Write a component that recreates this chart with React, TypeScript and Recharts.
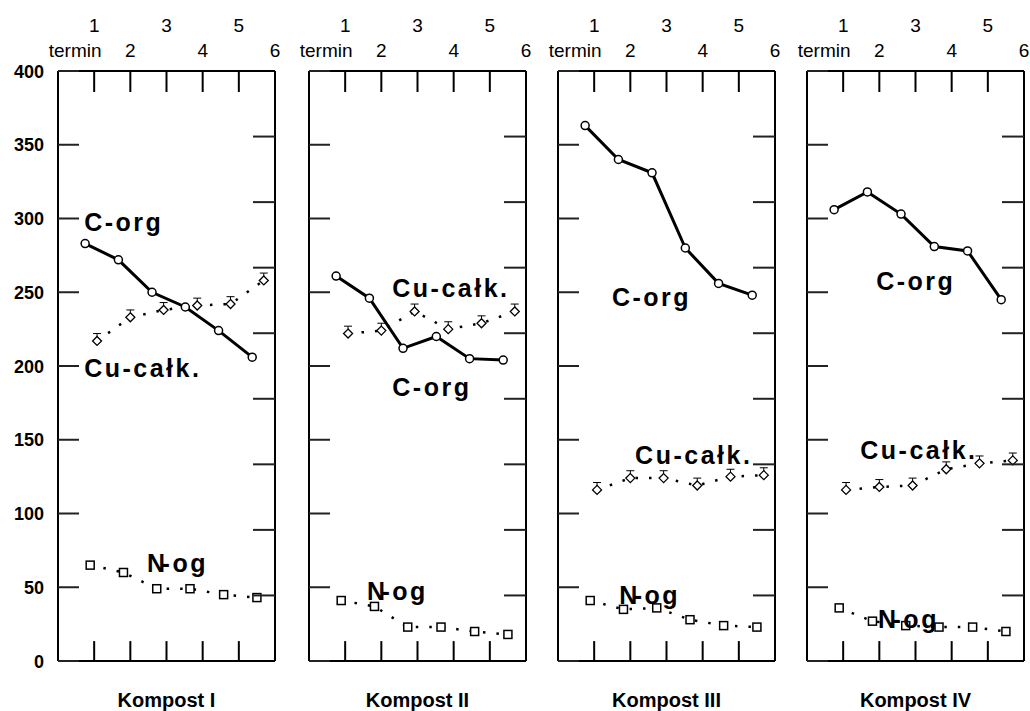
import React from 'react';
import { LineChart, Line, XAxis, YAxis, ErrorBar, ReferenceDot, ReferenceLine } from 'recharts';

const termin = [1, 2, 3, 4, 5, 6];
const kompost = ['Kompost I', 'Kompost II', 'Kompost III', 'Kompost IV'];
const yTicks = [0, 50, 100, 150, 200, 250, 300, 350, 400];
const rightTicks = [1, 2, 3, 4, 5, 6, 7, 8];

// x positions of the markers on the termin axis (the three series are drawn side by side)
const cOrgX = [0.75, 1.67, 2.6, 3.52, 4.44, 5.37];
const nOgX = [0.89, 1.81, 2.73, 3.65, 4.58, 5.5];
const cuX = [1.08, 2.0, 2.92, 3.85, 4.77, 5.69];

const cOrg = [
  [283, 272, 250, 240, 224, 206],
  [261, 246, 212, 220, 205, 204],
  [363, 340, 331, 280, 256, 248],
  [306, 318, 303, 281, 278, 245],
];
const cuCalk = [
  [217, 233, 238, 241, 242, 258],
  [222, 224, 237, 225, 229, 237],
  [116, 124, 124, 119, 125, 126],
  [116, 118, 119, 130, 134, 136],
];
const cuErr = [5, 5, 5, 5, 5, 5];
const nOg = [
  [65, 60, 49, 49, 45, 43],
  [41, 37, 23, 23, 20, 18],
  [41, 35, 36, 28, 24, 23],
  [36, 27, 24, 23, 23, 20],
];

// where the series names sit: [termin, value]
const cOrgLabel = [[0.75, 291], [2.33, 179], [1.52, 240], [1.94, 251]];
const cuLabel = [[0.75, 192], [2.33, 246], [2.16, 133], [1.5, 136]];
const nOgLabel = [[2.49, 60], [1.63, 41], [1.72, 38], [1.99, 22]];

const panelLeft = [58, 309, 558, 807];
const plotW = 217;
const plotH = 590;
const bottomTickLen = 13.5; // in value units, about 20px
const font = '"Liberation Sans", Arial, sans-serif';

// invisible rows so the top and right axes have something attached
const axisRows = termin.map((t, k) => ({ t, v: rightTicks[k] }));

const TopTick = ({ x, y, payload }: any) => {
  const v = payload.value;
  return (
    <g>
      <line x1={x} x2={x} y1={y} y2={y + 21} stroke="#000" strokeWidth={2} />
      <text x={x} y={v % 2 ? y - 39 : y - 14} textAnchor="middle" fontSize={19} fontFamily={font} fill="#000">
        {v}
      </text>
      {v === 1 && (
        <text x={x - 19} y={y - 14} textAnchor="middle" fontSize={19} fontFamily={font} fill="#000">
          termin
        </text>
      )}
    </g>
  );
};

const RightTick = ({ x, y }: any) => (
  <g>
    <line x1={x - 22} x2={x} y1={y} y2={y} stroke="#222" strokeWidth={2} />
  </g>
);

const makeLeftTick = (showText: boolean) => ({ x, y, payload }: any) => (
  <g>
    <line x1={x} x2={x + 21} y1={y} y2={y} stroke="#222" strokeWidth={2} />
    {showText && (
      <text x={x - 14} y={y + 6.5} textAnchor="end" fontSize={18} fontWeight="bold" fontFamily={font} fill="#000">
        {payload.value}
      </text>
    )}
  </g>
);

const Diamond = ({ cx, cy }: any) =>
  cx == null ? null : (
    <path d={`M${cx},${cy - 4.5}L${cx + 4.5},${cy}L${cx},${cy + 4.5}L${cx - 4.5},${cy}Z`} fill="#fff" stroke="#000" strokeWidth={1.3} />
  );

const Square = ({ cx, cy }: any) =>
  cx == null ? null : <rect x={cx - 4} y={cy - 4} width={8} height={8} fill="#fff" stroke="#000" strokeWidth={1.5} />;

const nameLabel = (text: string, split?: boolean) => ({ viewBox }: any) => (
  <text x={viewBox.x} y={viewBox.y} fontSize={25} fontWeight="bold" fontFamily={font} letterSpacing={2.5} fill="#000">
    {split ? (
      <>
        <tspan>N</tspan>
        <tspan dx={-6}>-og</tspan>
      </>
    ) : (
      text
    )}
  </text>
);

function Panel({ i }: { i: number }) {
  const cData = termin.map((t, k) => ({ x: cOrgX[k], y: cOrg[i][k] }));
  const uData = termin.map((t, k) => ({ x: cuX[k], y: cuCalk[i][k], err: [0, cuErr[k]] }));
  const nData = termin.map((t, k) => ({ x: nOgX[k], y: nOg[i][k] }));
  return (
    <div style={{ position: 'absolute', left: panelLeft[i] - 58, top: 0 }}>
      <LineChart width={58 + plotW + 6} height={711} margin={{ top: 0, right: 0, bottom: 0, left: 0 }}>
        <XAxis
          xAxisId="top"
          orientation="top"
          dataKey="t"
          type="number"
          domain={[0, 6]}
          allowDataOverflow
          ticks={termin}
          interval={0}
          height={71}
          tickSize={0}
          tickMargin={0}
          tickLine={false}
          axisLine={{ stroke: '#000', strokeWidth: 2 }}
          tick={TopTick}
        />
        <XAxis
          xAxisId="termin"
          orientation="bottom"
          dataKey="x"
          type="number"
          domain={[0, 6]}
          allowDataOverflow
          ticks={termin}
          interval={0}
          height={711 - 71 - plotH}
          tickLine={false}
          tick={false}
          axisLine={{ stroke: '#000', strokeWidth: 2 }}
          label={({ viewBox }: any) => (
            <text
              x={viewBox.x + viewBox.width / 2}
              y={viewBox.y + 45.5}
              textAnchor="middle"
              fontSize={20}
              fontWeight="bold"
              fontFamily={font}
              fill="#000"
            >
              {kompost[i]}
            </text>
          )}
        />
        <YAxis
          yAxisId="left"
          type="number"
          domain={[0, 400]}
          allowDataOverflow
          ticks={yTicks}
          interval={0}
          width={58}
          tickSize={0}
          tickMargin={0}
          tickLine={false}
          axisLine={{ stroke: '#000', strokeWidth: 2 }}
          tick={makeLeftTick(i === 0)}
        />
        <YAxis
          yAxisId="right"
          orientation="right"
          dataKey="v"
          type="number"
          domain={[0, 9]}
          allowDataOverflow
          ticks={rightTicks}
          interval={0}
          width={6}
          tickSize={0}
          tickMargin={0}
          tickLine={false}
          axisLine={{ stroke: '#000', strokeWidth: 2 }}
          tick={RightTick}
        />
        <Line data={axisRows} xAxisId="top" yAxisId="right" dataKey="v" stroke="none" dot={false} activeDot={false} isAnimationActive={false} />
        {termin.map((t) => (
          <ReferenceLine
            key={t}
            xAxisId="termin"
            yAxisId="left"
            segment={[{ x: t, y: 0 }, { x: t, y: bottomTickLen }]}
            stroke="#000"
            strokeWidth={2}
            ifOverflow="visible"
          />
        ))}
        <Line
          data={nData}
          xAxisId="termin"
          yAxisId="left"
          dataKey="y"
          stroke="#000"
          strokeWidth={2.5}
          strokeDasharray="2.5 11"
          dot={<Square />}
          isAnimationActive={false}
        />
        <Line
          data={uData}
          xAxisId="termin"
          yAxisId="left"
          dataKey="y"
          stroke="#000"
          strokeWidth={2.5}
          strokeDasharray="2.5 11"
          dot={<Diamond />}
          isAnimationActive={false}
        >
          <ErrorBar dataKey="err" direction="y" width={4} stroke="#000" strokeWidth={1} />
        </Line>
        <Line
          data={cData}
          xAxisId="termin"
          yAxisId="left"
          dataKey="y"
          stroke="#000"
          strokeWidth={3}
          dot={{ r: 4, fill: '#fff', stroke: '#000', strokeWidth: 1.5 }}
          isAnimationActive={false}
        />
        <ReferenceDot xAxisId="termin" yAxisId="left" x={cOrgLabel[i][0]} y={cOrgLabel[i][1]} r={1} fill="none" stroke="none" label={nameLabel('C-org')} />
        <ReferenceDot xAxisId="termin" yAxisId="left" x={cuLabel[i][0]} y={cuLabel[i][1]} r={1} fill="none" stroke="none" label={nameLabel('Cu-całk.')} />
        <ReferenceDot xAxisId="termin" yAxisId="left" x={nOgLabel[i][0]} y={nOgLabel[i][1]} r={1} fill="none" stroke="none" label={nameLabel('N-og', true)} />
      </LineChart>
    </div>
  );
}

export default function App() {
  return (
    <div style={{ position: 'relative', width: 1030, height: 711, background: '#fff', overflow: 'hidden' }}>
      <style>{'body{margin:0}'}</style>
      {kompost.map((k, i) => (
        <Panel key={k} i={i} />
      ))}
    </div>
  );
}
